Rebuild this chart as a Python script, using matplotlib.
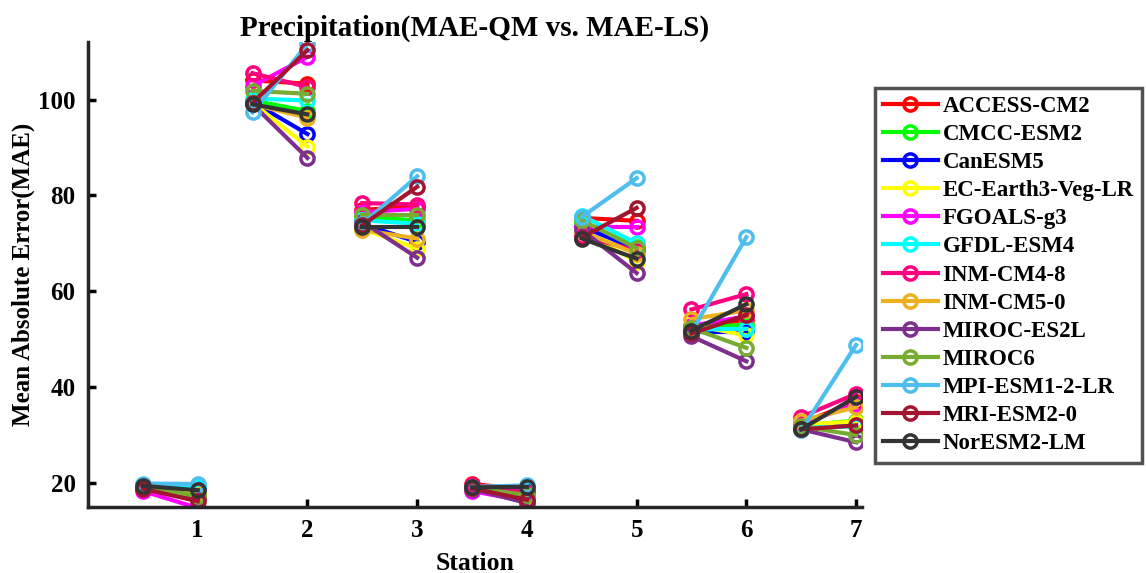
import numpy as np
import matplotlib.pyplot as plt

plt.rcParams['font.family'] = 'Liberation Serif'
plt.rcParams['font.weight'] = 'bold'

stations = [1, 2, 3, 4, 5, 6, 7]
models = ['ACCESS-CM2', 'CMCC-ESM2', 'CanESM5', 'EC-Earth3-Veg-LR', 'FGOALS-g3',
          'GFDL-ESM4', 'INM-CM4-8', 'INM-CM5-0', 'MIROC-ES2L', 'MIROC6',
          'MPI-ESM1-2-LR', 'MRI-ESM2-0', 'NorESM2-LM']
colors = ['#ff0000', '#00ff00', '#0000ff', '#ffff00', '#ff00ff', '#00ffff',
          '#ff0080', '#edb120', '#7e2f8e', '#77ac30', '#4dbeee', '#a2142f', '#333333']

# MAE after quantile mapping, per model, stations 1-7
mae_qm = [
    [19.2, 104.0, 77.0, 19.8, 75.3, 52.5, 32.5],
    [19.3, 99.8, 75.5, 19.0, 74.5, 52.5, 32.0],
    [19.4, 99.5, 74.0, 19.0, 73.5, 51.5, 31.8],
    [19.2, 99.3, 73.0, 19.0, 72.5, 53.0, 32.2],
    [18.3, 102.8, 76.5, 18.3, 73.5, 52.8, 32.3],
    [19.5, 100.2, 74.8, 19.2, 75.8, 52.0, 31.5],
    [19.3, 105.5, 78.4, 19.6, 71.5, 56.2, 33.8],
    [19.0, 99.0, 72.8, 19.0, 72.5, 54.2, 33.0],
    [19.0, 99.0, 74.5, 18.8, 72.8, 50.6, 31.2],
    [19.1, 101.8, 76.0, 19.0, 74.8, 52.3, 31.8],
    [19.9, 97.3, 74.0, 19.2, 75.5, 51.5, 31.0],
    [18.8, 99.3, 73.8, 18.9, 71.2, 51.2, 31.2],
    [19.4, 99.0, 73.5, 19.1, 71.0, 51.8, 31.2],
]
# MAE after linear scaling, per model, stations 1-7
mae_ls = [
    [17.8, 103.3, 77.6, 18.6, 74.7, 54.0, 37.0],
    [17.5, 97.6, 74.8, 18.0, 69.3, 53.0, 33.0],
    [18.8, 92.8, 70.3, 18.8, 68.8, 51.5, 32.5],
    [17.6, 90.2, 68.9, 17.5, 66.2, 50.8, 32.8],
    [14.8, 108.9, 77.2, 16.2, 73.5, 54.8, 36.5],
    [19.3, 99.8, 74.1, 19.0, 70.0, 52.2, 31.8],
    [17.2, 102.6, 78.1, 18.0, 68.5, 59.4, 38.6],
    [17.4, 96.2, 71.0, 17.2, 67.8, 56.0, 35.8],
    [16.8, 87.8, 67.0, 15.8, 63.8, 45.4, 28.5],
    [17.3, 101.2, 76.0, 17.5, 69.0, 48.2, 30.0],
    [19.8, 111.6, 84.0, 19.5, 83.6, 71.3, 48.8],
    [16.2, 110.3, 81.8, 16.5, 77.4, 55.0, 32.0],
    [18.5, 96.9, 73.5, 19.2, 66.8, 57.3, 38.0],
]

fig = plt.figure(figsize=(11.46, 5.73), dpi=100)
ax = fig.add_axes([0.0768, 0.1152, 0.675, 0.8115])

for name, col, qm, ls in zip(models, colors, mae_qm, mae_ls):
    for k, st in enumerate(stations):
        ax.plot([st - 0.5, st], [qm[k], ls[k]], color=col, lw=3,
                marker='o', ms=9.5, mfc='none', mew=2.5,
                label=name if k == 0 else None)

ax.set_xlim(0, 7.05)
ax.set_ylim(15, 112)
ax.set_xticks(stations)
ax.set_yticks([20, 40, 60, 80, 100])
ax.tick_params(direction='in', length=6, width=2.5, labelsize=18, pad=9)
for s in ['top', 'right']:
    ax.spines[s].set_visible(False)
for s in ['left', 'bottom']:
    ax.spines[s].set_linewidth(2.5)
    ax.spines[s].set_color('#262626')

ax.set_xlabel('Station', fontsize=18.5, fontweight='bold', labelpad=7)
ax.set_ylabel('Mean Absolute Error(MAE)', fontsize=18, fontweight='bold', labelpad=2)
ax.set_title('Precipitation(MAE-QM vs. MAE-LS)', fontsize=21, fontweight='bold', pad=4)

leg = fig.legend(loc='upper left', bbox_to_anchor=(0.7635, 0.847), fontsize=16.5,
                 frameon=True, fancybox=False, edgecolor='#262626',
                 handlelength=2.4, labelspacing=0.31, borderpad=0.35,
                 handletextpad=0.2, borderaxespad=0)
leg.get_frame().set_linewidth(2.5)

fig.savefig('out.png', dpi=100)
